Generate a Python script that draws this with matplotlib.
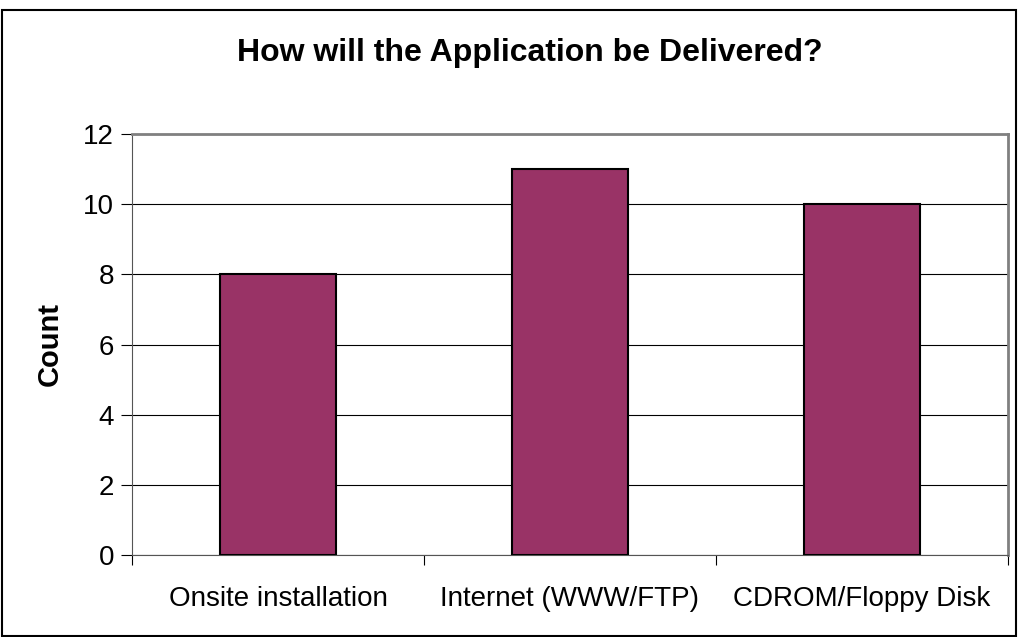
import matplotlib.pyplot as plt
from matplotlib.patches import Rectangle
import numpy as np

categories = ['Onsite installation', 'Internet (WWW/FTP)', 'CDROM/Floppy Disk']
counts = [8, 11, 10]
y_ticks = [0, 2, 4, 6, 8, 10, 12]

plt.rcParams['font.family'] = ['Liberation Sans', 'DejaVu Sans']

fig = plt.figure(figsize=(10.18, 6.37), dpi=100)
ax = fig.add_axes([132 / 1018, 1 - 555 / 637, 876 / 1018, 421 / 637])

x = np.arange(len(categories))
ax.bar(x, counts, width=0.40, color='#993366', edgecolor='black', linewidth=1.5, zorder=3)

ax.set_xlim(-0.5, len(categories) - 0.5)
ax.set_ylim(0, 12)
ax.set_yticks(y_ticks)
ax.set_yticklabels([str(v) for v in y_ticks], fontsize=20)
ax.yaxis.grid(True, color='black', linewidth=0.8, zorder=0)

# categories labelled at centres, tick marks at the boundaries
ax.set_xticks(x)
ax.set_xticklabels(categories, fontsize=20)
ax.tick_params(axis='x', length=0, pad=22)
ax.set_xticks(np.arange(-0.5, len(categories)), minor=True)
ax.tick_params(axis='x', which='minor', length=7, color='black', width=0.8)
ax.tick_params(axis='y', length=8, color='black', width=0.8, pad=5)

for side in ['top', 'right']:
    ax.spines[side].set_color('#808080')
    ax.spines[side].set_linewidth(2)
ax.spines['left'].set_color('#555555')
ax.spines['bottom'].set_color('#555555')

ax.set_ylabel('Count', fontsize=21, fontweight='bold', labelpad=14)
fig.text(0.5205, 1 - 53 / 637, 'How will the Application be Delivered?', ha='center', va='center',
         fontsize=23, fontweight='bold')

# outer chart border
fig.patches.append(Rectangle((2 / 1018, 1 / 637), 1014 / 1018, 626 / 637, transform=fig.transFigure,
                             fill=False, edgecolor='black', linewidth=1.5))

fig.savefig('out.png', dpi=100)
